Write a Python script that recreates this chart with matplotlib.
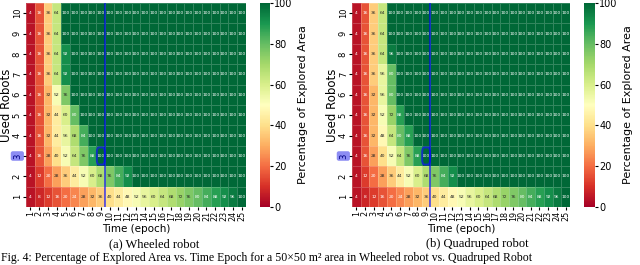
import numpy as np
import matplotlib
matplotlib.use("Agg")
import matplotlib.pyplot as plt
import seaborn as sns
from matplotlib.patches import FancyBboxPatch

# x axis: time epochs, y axis: number of robots used
epochs = list(range(1, 26))
robots = list(range(1, 11))

# Wheeled robot, explored area (%) per epoch, one list per robot count
wheeled_1 = [4, 8, 12, 16, 20, 24, 28, 32, 36, 40, 44, 48, 52, 56, 60, 64, 68, 72, 76, 80, 84, 88, 92, 96, 100]
wheeled_2 = [4, 12, 20, 28, 36, 44, 52, 60, 68, 76, 84, 92, 100, 100, 100, 100, 100, 100, 100, 100, 100, 100, 100, 100, 100]
wheeled_3 = [4, 16, 28, 40, 52, 64, 76, 88, 100, 100, 100, 100, 100, 100, 100, 100, 100, 100, 100, 100, 100, 100, 100, 100, 100]
wheeled_4 = [4, 16, 32, 44, 56, 68, 84, 100, 100, 100, 100, 100, 100, 100, 100, 100, 100, 100, 100, 100, 100, 100, 100, 100, 100]
wheeled_5 = [4, 16, 32, 44, 60, 80, 100, 100, 100, 100, 100, 100, 100, 100, 100, 100, 100, 100, 100, 100, 100, 100, 100, 100, 100]
wheeled_6 = [4, 16, 32, 52, 76, 100, 100, 100, 100, 100, 100, 100, 100, 100, 100, 100, 100, 100, 100, 100, 100, 100, 100, 100, 100]
wheeled_7 = [4, 16, 36, 64, 92, 100, 100, 100, 100, 100, 100, 100, 100, 100, 100, 100, 100, 100, 100, 100, 100, 100, 100, 100, 100]
wheeled_8 = [4, 16, 36, 64, 92, 100, 100, 100, 100, 100, 100, 100, 100, 100, 100, 100, 100, 100, 100, 100, 100, 100, 100, 100, 100]
wheeled_9 = [4, 16, 36, 64, 100, 100, 100, 100, 100, 100, 100, 100, 100, 100, 100, 100, 100, 100, 100, 100, 100, 100, 100, 100, 100]
wheeled_10 = [4, 16, 36, 64, 100, 100, 100, 100, 100, 100, 100, 100, 100, 100, 100, 100, 100, 100, 100, 100, 100, 100, 100, 100, 100]

# Quadruped robot
quad_1 = [4, 8, 12, 16, 20, 24, 28, 32, 36, 40, 44, 48, 52, 56, 60, 64, 68, 72, 76, 80, 84, 88, 92, 96, 100]
quad_2 = [4, 12, 20, 28, 36, 44, 52, 60, 68, 76, 84, 92, 100, 100, 100, 100, 100, 100, 100, 100, 100, 100, 100, 100, 100]
quad_3 = [4, 16, 28, 40, 52, 64, 76, 88, 100, 100, 100, 100, 100, 100, 100, 100, 100, 100, 100, 100, 100, 100, 100, 100, 100]
quad_4 = [4, 16, 32, 48, 64, 80, 88, 100, 100, 100, 100, 100, 100, 100, 100, 100, 100, 100, 100, 100, 100, 100, 100, 100, 100]
quad_5 = [4, 16, 32, 52, 72, 88, 100, 100, 100, 100, 100, 100, 100, 100, 100, 100, 100, 100, 100, 100, 100, 100, 100, 100, 100]
quad_6 = [4, 16, 32, 56, 80, 100, 100, 100, 100, 100, 100, 100, 100, 100, 100, 100, 100, 100, 100, 100, 100, 100, 100, 100, 100]
quad_7 = [4, 16, 36, 56, 80, 100, 100, 100, 100, 100, 100, 100, 100, 100, 100, 100, 100, 100, 100, 100, 100, 100, 100, 100, 100]
quad_8 = [4, 16, 36, 64, 96, 100, 100, 100, 100, 100, 100, 100, 100, 100, 100, 100, 100, 100, 100, 100, 100, 100, 100, 100, 100]
quad_9 = [4, 16, 36, 64, 100, 100, 100, 100, 100, 100, 100, 100, 100, 100, 100, 100, 100, 100, 100, 100, 100, 100, 100, 100, 100]
quad_10 = [4, 16, 36, 64, 100, 100, 100, 100, 100, 100, 100, 100, 100, 100, 100, 100, 100, 100, 100, 100, 100, 100, 100, 100, 100]

wheeled = np.array([wheeled_10, wheeled_9, wheeled_8, wheeled_7, wheeled_6,
                    wheeled_5, wheeled_4, wheeled_3, wheeled_2, wheeled_1])
quad = np.array([quad_10, quad_9, quad_8, quad_7, quad_6,
                 quad_5, quad_4, quad_3, quad_2, quad_1])

highlight_robots = 3
highlight_epoch = 9

fig = plt.figure(figsize=(6.4, 2.65), dpi=100)
H = 265.0
W = 640.0


def box(x0, y0, x1, y1):
    # pixel box (top-left origin) -> figure coords
    return [x0 / W, 1 - y1 / H, (x1 - x0) / W, (y1 - y0) / H]


def draw(data, ax_box, cbar_box, caption, cap_x):
    ax = fig.add_axes(box(*ax_box))
    cax = fig.add_axes(box(*cbar_box))
    sns.heatmap(data, ax=ax, cbar_ax=cax, cmap="RdYlGn", vmin=0, vmax=100,
                annot=True, fmt="d", annot_kws={"size": 3.2},
                linewidths=0.5, linecolor=(1, 1, 1, 0.2),
                xticklabels=epochs, yticklabels=robots[::-1])
    ax.tick_params(axis="x", labelsize=5.8, rotation=90, length=2, pad=1)
    ax.tick_params(axis="y", labelsize=6, rotation=90, length=2, pad=1)
    for lab in ax.get_yticklabels():
        lab.set_va("center")
        if lab.get_text() == str(highlight_robots):
            lab.set_color("navy")
            lab.set_bbox(dict(boxstyle="round,pad=0.25", facecolor="#7070f0",
                              edgecolor="none", alpha=0.8))
    ax.set_xlabel("Time (epoch)", fontsize=7.5, labelpad=2)
    ax.set_ylabel("Used Robots", fontsize=8.5)
    ax.yaxis.set_label_coords(-0.06, 0.5)

    row = len(robots) - highlight_robots
    col = highlight_epoch - 1
    ax.add_patch(FancyBboxPatch((col + 0.05, row + 0.08), 0.9, 0.84,
                                boxstyle="round,pad=0,rounding_size=0.25",
                                fill=False, edgecolor="#1030c0", lw=1.4, zorder=5))
    ax.axvline(highlight_epoch, color="blue", alpha=0.7, lw=1.2, zorder=6)

    cax.tick_params(labelsize=7, length=2, pad=1)
    cax.set_yticks([0, 20, 40, 60, 80, 100])
    cax.set_ylabel("Percentage of Explored Area", fontsize=8, labelpad=4)

    fig.text(cap_x / W, 1 - 244 / H, caption, ha="center", va="center",
             family="Liberation Serif", fontsize=9)


draw(wheeled, (26, 3, 246, 207), (260, 3, 270, 207), "(a) Wheeled robot", 154)
draw(quad, (352, 3, 570, 207), (584, 3, 595, 207), "(b) Quadruped robot", 477)

fig.text(1 / W, 1 / H,
         "Fig. 4: Percentage of Explored Area vs. Time Epoch for a 50\u00d750 m\u00b2 area in Wheeled robot vs. Quadruped Robot",
         ha="left", va="bottom", family="Liberation Serif", fontsize=8.5)

fig.savefig("out.png", dpi=100)
